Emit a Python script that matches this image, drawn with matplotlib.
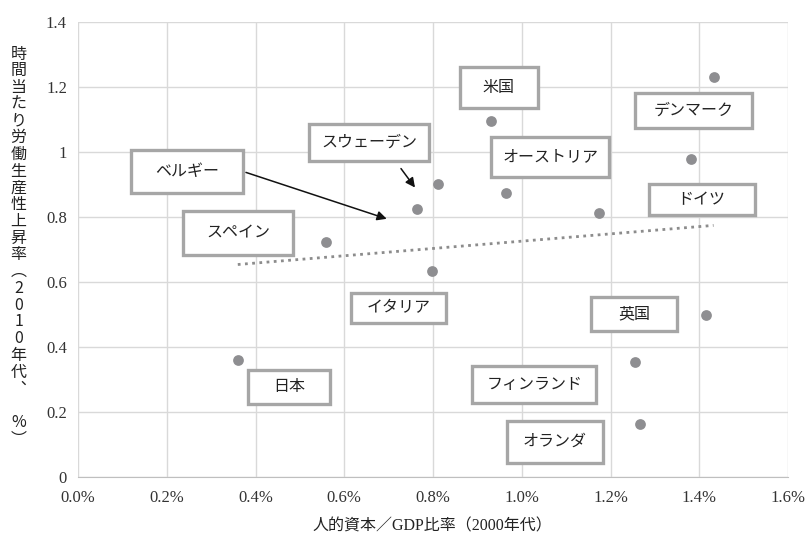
import numpy as np
import matplotlib.pyplot as plt
from matplotlib.patches import Rectangle
from matplotlib.ticker import FuncFormatter

# 人的資本/GDP比率 (%) と 時間当たり労働生産性上昇率 (%)
hc_ratio = [0.360, 0.558, 0.763, 0.811, 0.797, 0.931, 0.964, 1.175, 1.381, 1.432, 1.415, 1.254, 1.267]
prod_growth = [0.360, 0.722, 0.826, 0.901, 0.633, 1.094, 0.874, 0.812, 0.979, 1.232, 0.499, 0.355, 0.163]

# 国名ラベル: (名前, 中心x, 中心y, 幅px, 高さpx)
labels = [
    ("ベルギー", 0.2456, 0.941, 112, 43),
    ("スペイン", 0.3606, 0.752, 110, 44),
    ("スウェーデン", 0.656, 1.030, 120, 37),
    ("米国", 0.948, 1.198, 78, 41),
    ("オーストリア", 1.064, 0.985, 118, 40),
    ("デンマーク", 1.386, 1.128, 117, 35),
    ("ドイツ", 1.405, 0.855, 106, 31),
    ("英国", 1.253, 0.503, 86, 34),
    ("フィンランド", 1.028, 0.284, 124, 37),
    ("オランダ", 1.074, 0.110, 96, 42),
    ("イタリア", 0.723, 0.522, 95, 30),
    ("日本", 0.475, 0.278, 82, 34),
]

serif = ['Liberation Serif', 'Noto Sans CJK JP']
jp = ['Noto Sans CJK JP', 'Liberation Serif']

fig = plt.figure(figsize=(8.06, 5.48), dpi=100)
ax = fig.add_axes([0.0968, 0.129, 0.881, 0.831])

ax.set_xlim(0, 1.6)
ax.set_ylim(0, 1.4)
ax.set_xticks(np.arange(0, 1.61, 0.2))
ax.set_yticks(np.arange(0, 1.41, 0.2))
ax.xaxis.set_major_formatter(FuncFormatter(lambda v, p: f"{v:.1f}%"))
ax.yaxis.set_major_formatter(FuncFormatter(lambda v, p: "0" if v == 0 else ("1" if abs(v - 1) < 1e-9 else f"{v:g}")))
ax.grid(True, color='#d9d9d9', linewidth=1.0)
ax.set_axisbelow(True)
for s in ['top', 'right', 'left']:
    ax.spines[s].set_visible(False)
ax.spines['bottom'].set_color('#bfbfbf')
ax.tick_params(axis='y', length=0, pad=8)
ax.tick_params(axis='x', length=0, pad=9)
for t in ax.get_xticklabels() + ax.get_yticklabels():
    t.set_family(serif)
    t.set_fontsize(12)
    t.set_color('#333333')

# 線形近似
xs = np.array(hc_ratio)
ys = np.array(prod_growth)
k, b = np.polyfit(xs, ys, 1)
xl = np.array([xs.min(), xs.max()])
ax.plot(xl, k * xl + b, linestyle=(0, (1, 1.6)), color='#8c8c8c', linewidth=2, zorder=2)

ax.scatter(hc_ratio, prod_growth, s=60, color='#8e8e91', zorder=3, linewidths=0)

# ラベルの枠
px_x = 1.6 / 710.0
px_y = 1.4 / 455.0
for name, cx, cy, w, h in labels:
    ww = w * px_x
    hh = h * px_y
    ax.add_patch(Rectangle((cx - ww / 2, cy - hh / 2), ww, hh, facecolor='white',
                           edgecolor='#a6a6a6', linewidth=2.4, zorder=4))
    ax.text(cx, cy, name, ha='center', va='center', fontsize=11.5, family=jp,
            color='#222222', zorder=5)

arrow_kw = dict(arrowstyle='-|>', color='#111111', lw=1.1, mutation_scale=14)
ax.annotate('', xy=(0.7015, 0.792), xytext=(0.3725, 0.940), arrowprops=arrow_kw, zorder=6)
ax.annotate('', xy=(0.763, 0.884), xytext=(0.724, 0.956), arrowprops=arrow_kw, zorder=6)

fig.text(0.537, 0.040, "人的資本／GDP比率（2000年代）", ha='center', va='center',
         fontsize=11.5, family=serif, color='#222222')

ylab = list("時間当たり労働生産性上昇率") + ["︵", "2", "0", "1", "0", "年", "代", "︑", "", "%", "︶"]
fig.text(0.023, 0.55, "\n".join(ylab), ha='center', va='center', fontsize=11.5,
         family=jp, color='#222222', linespacing=0.98)

fig.savefig('out.png', dpi=100)
